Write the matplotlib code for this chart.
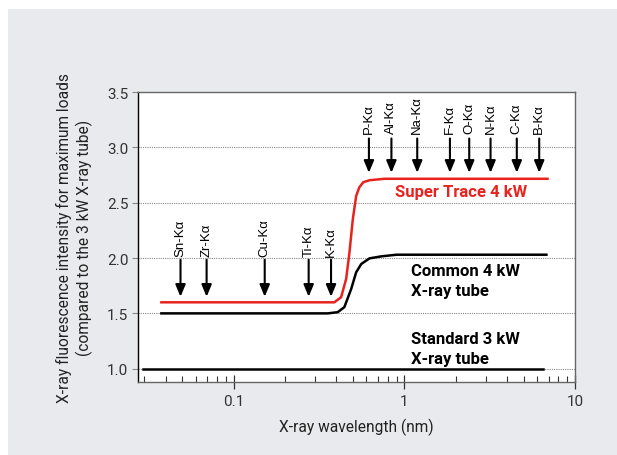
import matplotlib
matplotlib.use('Agg')
import matplotlib.pyplot as plt
from matplotlib.patches import Rectangle
from matplotlib.ticker import FixedLocator, LogLocator, NullFormatter

# === Datos ===
# Tubo estándar 3 kW (referencia)
std_x = [0.0294, 6.5]
std_y = [1.0, 1.0]

# Tubo común 4 kW
common_x = [0.0377, 0.30, 0.356, 0.407, 0.445, 0.488, 0.522, 0.559, 0.625, 0.732, 0.90, 6.8]
common_y = [1.50, 1.50, 1.50, 1.511, 1.556, 1.72, 1.871, 1.946, 1.997, 2.015, 2.03, 2.03]

# Super Trace 4 kW
st_x = [0.0377, 0.30, 0.389, 0.426, 0.456, 0.477, 0.499, 0.522, 0.545, 0.575, 0.625, 0.766, 6.9]
st_y = [1.60, 1.60, 1.60, 1.646, 1.811, 2.051, 2.351, 2.561, 2.640, 2.685, 2.703, 2.716, 2.716]

# Líneas Kα (flechas)
low_lines = ['Sn-Kα', 'Zr-Kα', 'Cu-Kα', 'Ti-Kα', 'K-Kα']
low_wl = [0.0488, 0.0694, 0.152, 0.275, 0.372]
high_lines = ['P-Kα', 'Al-Kα', 'Na-Kα', 'F-Kα', 'O-Kα', 'N-Kα', 'C-Kα', 'B-Kα']
high_wl = [0.62, 0.84, 1.19, 1.85, 2.4, 3.2, 4.56, 6.17]

y_ticks = [1.0, 1.5, 2.0, 2.5, 3.0, 3.5]

# === Figura ===
fig = plt.figure(figsize=(6.17, 4.56), dpi=100)
fig.patch.set_facecolor('white')
fig.patches.append(Rectangle((8 / 617, 0), 1, 1 - 10 / 456, transform=fig.transFigure,
                             facecolor='#e9eaee', edgecolor='none', zorder=-1))

ax = fig.add_axes([138 / 617, 1 - 383 / 456, 437 / 617, 290 / 456])
ax.set_facecolor('white')
ax.set_xscale('log')
ax.set_xlim(0.0275, 10)
ax.set_ylim(0.88, 3.5)

# Rejilla punteada
for y in y_ticks[:-1]:
    ax.axhline(y, color='#888888', linestyle=(0, (1, 1)), linewidth=0.8, zorder=0)

ax.plot(std_x, std_y, color='black', linewidth=1.8, zorder=3)
ax.plot(common_x, common_y, color='black', linewidth=1.8, zorder=3)
ax.plot(st_x, st_y, color='#e8221e', linewidth=1.8, zorder=4)

# Flechas
arrow_kw = dict(arrowstyle='-|>,head_length=0.6,head_width=0.25', color='black',
                lw=1.5, mutation_scale=12, shrinkA=0, shrinkB=0)
for name, wl in zip(low_lines, low_wl):
    ax.annotate('', xy=(wl, 1.65), xytext=(wl, 1.985), arrowprops=arrow_kw, zorder=5)
    ax.text(wl, 2.02, name, rotation=90, ha='center', va='bottom', fontsize=9.5,
            family='Liberation Sans')
for name, wl in zip(high_lines, high_wl):
    ax.annotate('', xy=(wl, 2.77), xytext=(wl, 3.08), arrowprops=arrow_kw, zorder=5)
    ax.text(wl, 3.126, name, rotation=90, ha='center', va='bottom', fontsize=9.5,
            family='Liberation Sans')

# Etiquetas de series
ax.text(0.88, 2.6, 'Super Trace 4 kW', color='#e8221e', fontsize=12, fontweight='bold',
        family='Roboto', va='center')
ax.text(1.1, 1.795, 'Common 4 kW\nX-ray tube', color='black', fontsize=12, fontweight='bold',
        family='Roboto', va='center', linespacing=1.4)
ax.text(1.1, 1.185, 'Standard 3 kW\nX-ray tube', color='black', fontsize=12, fontweight='bold',
        family='Roboto', va='center', linespacing=1.4)

# Ejes
ax.yaxis.set_major_locator(FixedLocator(y_ticks))
ax.set_yticklabels([f'{v:.1f}' for v in y_ticks])
ax.xaxis.set_major_locator(FixedLocator([0.1, 1, 10]))
ax.set_xticklabels(['0.1', '1', '10'])
ax.xaxis.set_minor_locator(LogLocator(base=10, subs=range(2, 10)))
ax.xaxis.set_minor_formatter(NullFormatter())

ax.tick_params(axis='y', direction='out', length=4, width=0.8, color='#888888',
               labelsize=11, labelcolor='#333333', pad=3)
ax.tick_params(axis='x', which='major', direction='inout', length=10, width=0.9,
               color='#333333', labelsize=11, labelcolor='#333333', pad=4)
ax.tick_params(axis='x', which='minor', direction='in', length=4, width=0.8, color='#333333')
for lbl in ax.get_xticklabels() + ax.get_yticklabels():
    lbl.set_family('Roboto')

ax.spines['left'].set_color('black')
ax.spines['left'].set_linewidth(1.0)
for s in ['top', 'right', 'bottom']:
    ax.spines[s].set_color('#666666')
    ax.spines[s].set_linewidth(1.0)

ax.set_xlabel('X-ray wavelength (nm)', fontsize=11.2, family='Roboto', color='#222222',
              labelpad=7)
ax.set_ylabel('X-ray fluorescence intensity for maximum loads\n(compared to the 3 kW X-ray tube)',
              fontsize=11.2, family='Roboto', color='#222222', labelpad=10, linespacing=1.25)

fig.savefig('out.png', dpi=100, facecolor=fig.get_facecolor())
